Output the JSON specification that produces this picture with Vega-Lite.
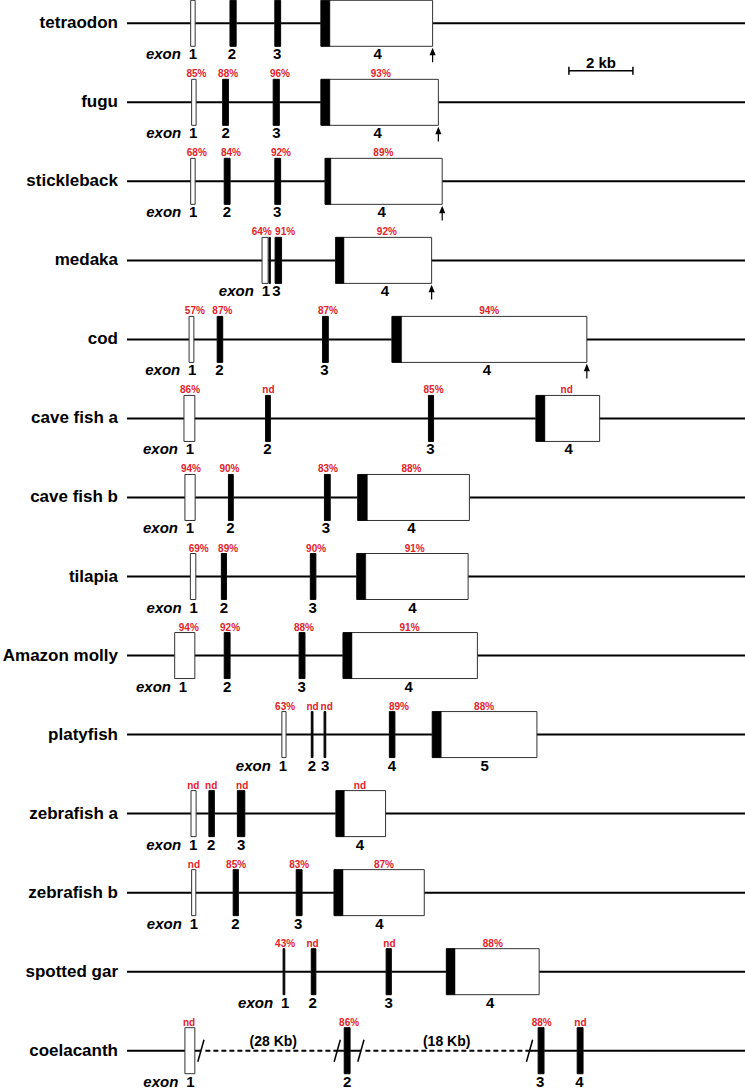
{
  "$schema": "https://vega.github.io/schema/vega-lite/v6.json",
  "width": 745,
  "height": 1090,
  "padding": 0,
  "autosize": {"type": "none"},
  "config": {"view": {"stroke": null}, "font": "Liberation Sans"},
  "datasets": {
    "lines": [
      {"sp": "tetraodon", "row": 0, "s": 0, "e": 19.3125, "d": "s"},
      {"sp": "fugu", "row": 1, "s": 0, "e": 19.3125, "d": "s"},
      {"sp": "stickleback", "row": 2, "s": 0, "e": 19.3125, "d": "s"},
      {"sp": "medaka", "row": 3, "s": 0, "e": 19.3125, "d": "s"},
      {"sp": "cod", "row": 4, "s": 0, "e": 19.3125, "d": "s"},
      {"sp": "cave fish a", "row": 5, "s": 0, "e": 19.3125, "d": "s"},
      {"sp": "cave fish b", "row": 6, "s": 0, "e": 19.3125, "d": "s"},
      {"sp": "tilapia", "row": 7, "s": 0, "e": 19.3125, "d": "s"},
      {"sp": "Amazon molly", "row": 8, "s": 0, "e": 19.3125, "d": "s"},
      {"sp": "platyfish", "row": 9, "s": 0, "e": 19.3125, "d": "s"},
      {"sp": "zebrafish a", "row": 10, "s": 0, "e": 19.3125, "d": "s"},
      {"sp": "zebrafish b", "row": 11, "s": 0, "e": 19.3125, "d": "s"},
      {"sp": "spotted gar", "row": 12, "s": 0, "e": 19.3125, "d": "s"},
      {"sp": "coelacanth", "row": 13, "s": 0, "e": 2.31, "d": "s"},
      {"sp": "coelacanth", "row": 13, "s": 2.45, "e": 6.57, "d": "d"},
      {"sp": "coelacanth", "row": 13, "s": 6.57, "e": 7.31, "d": "s"},
      {"sp": "coelacanth", "row": 13, "s": 7.45, "e": 12.58, "d": "d"},
      {"sp": "coelacanth", "row": 13, "s": 12.58, "e": 19.3125, "d": "s"}
    ],
    "exons": [
      {"sp": "tetraodon", "row": 0, "n": "1", "s": 1.99, "e": 2.13, "nx": 2.06},
      {"sp": "tetraodon", "row": 0, "n": "2", "s": 3.22, "e": 3.41, "c": 3.41, "nx": 3.28},
      {"sp": "tetraodon", "row": 0, "n": "3", "s": 4.62, "e": 4.80, "c": 4.80, "nx": 4.69},
      {"sp": "tetraodon", "row": 0, "n": "4", "s": 6.06, "e": 9.55, "c": 6.34, "nx": 7.83, "arrow": true},
      {"sp": "fugu", "row": 1, "n": "1", "s": 2.02, "e": 2.16, "nx": 2.07, "p": "85%", "px": 2.17},
      {"sp": "fugu", "row": 1, "n": "2", "s": 2.99, "e": 3.17, "c": 3.17, "nx": 3.08, "p": "88%", "px": 3.16},
      {"sp": "fugu", "row": 1, "n": "3", "s": 4.57, "e": 4.76, "c": 4.76, "nx": 4.67, "p": "96%", "px": 4.78},
      {"sp": "fugu", "row": 1, "n": "4", "s": 6.06, "e": 9.73, "c": 6.34, "nx": 7.83, "p": "93%", "px": 7.93, "arrow": true},
      {"sp": "stickleback", "row": 2, "n": "1", "s": 1.99, "e": 2.13, "nx": 2.07, "p": "68%", "px": 2.18},
      {"sp": "stickleback", "row": 2, "n": "2", "s": 3.04, "e": 3.22, "c": 3.22, "nx": 3.12, "p": "84%", "px": 3.25},
      {"sp": "stickleback", "row": 2, "n": "3", "s": 4.62, "e": 4.80, "c": 4.80, "nx": 4.69, "p": "92%", "px": 4.81},
      {"sp": "stickleback", "row": 2, "n": "4", "s": 6.19, "e": 9.85, "c": 6.37, "nx": 7.96, "p": "89%", "px": 8.01, "arrow": true},
      {"sp": "medaka", "row": 3, "n": "1", "s": 4.22, "e": 4.41, "nx": 4.34, "p": "64%", "px": 4.21},
      {"sp": "medaka", "row": 3, "s": 4.44, "e": 4.48, "c": 4.48},
      {"sp": "medaka", "row": 3, "n": "3", "s": 4.63, "e": 4.83, "c": 4.83, "nx": 4.67, "p": "91%", "px": 4.94},
      {"sp": "medaka", "row": 3, "n": "4", "s": 6.52, "e": 9.52, "c": 6.78, "nx": 8.06, "p": "92%", "px": 8.12, "arrow": true},
      {"sp": "cod", "row": 4, "n": "1", "s": 1.94, "e": 2.09, "nx": 2.04, "p": "57%", "px": 2.12},
      {"sp": "cod", "row": 4, "n": "2", "s": 2.82, "e": 2.99, "c": 2.99, "nx": 2.89, "p": "87%", "px": 2.98},
      {"sp": "cod", "row": 4, "n": "3", "s": 6.11, "e": 6.29, "c": 6.29, "nx": 6.17, "p": "87%", "px": 6.28},
      {"sp": "cod", "row": 4, "n": "4", "s": 8.28, "e": 14.37, "c": 8.58, "nx": 11.25, "p": "94%", "px": 11.32, "arrow": true},
      {"sp": "cave fish a", "row": 5, "n": "1", "s": 1.78, "e": 2.12, "nx": 1.97, "p": "86%", "px": 1.97},
      {"sp": "cave fish a", "row": 5, "n": "2", "s": 4.33, "e": 4.48, "c": 4.48, "nx": 4.39, "p": "nd", "px": 4.42},
      {"sp": "cave fish a", "row": 5, "n": "3", "s": 9.42, "e": 9.58, "c": 9.58, "nx": 9.48, "p": "85%", "px": 9.58},
      {"sp": "cave fish a", "row": 5, "n": "4", "s": 12.78, "e": 14.77, "c": 13.06, "nx": 13.80, "p": "nd", "px": 13.74},
      {"sp": "cave fish b", "row": 6, "n": "1", "s": 1.81, "e": 2.13, "nx": 1.97, "p": "94%", "px": 2.0},
      {"sp": "cave fish b", "row": 6, "n": "2", "s": 3.17, "e": 3.32, "c": 3.32, "nx": 3.23, "p": "90%", "px": 3.20},
      {"sp": "cave fish b", "row": 6, "n": "3", "s": 6.17, "e": 6.35, "c": 6.35, "nx": 6.22, "p": "83%", "px": 6.28},
      {"sp": "cave fish b", "row": 6, "n": "4", "s": 7.21, "e": 10.70, "c": 7.51, "nx": 8.89, "p": "88%", "px": 8.89},
      {"sp": "tilapia", "row": 7, "n": "1", "s": 1.98, "e": 2.15, "nx": 2.08, "p": "69%", "px": 2.24},
      {"sp": "tilapia", "row": 7, "n": "2", "s": 2.95, "e": 3.11, "c": 3.11, "nx": 3.03, "p": "89%", "px": 3.16},
      {"sp": "tilapia", "row": 7, "n": "3", "s": 5.73, "e": 5.90, "c": 5.90, "nx": 5.80, "p": "90%", "px": 5.91},
      {"sp": "tilapia", "row": 7, "n": "4", "s": 7.18, "e": 10.66, "c": 7.46, "nx": 8.92, "p": "91%", "px": 8.99},
      {"sp": "Amazon molly", "row": 8, "n": "1", "s": 1.49, "e": 2.12, "nx": 1.75, "p": "94%", "px": 1.93},
      {"sp": "Amazon molly", "row": 8, "n": "2", "s": 3.04, "e": 3.22, "c": 3.22, "nx": 3.13, "p": "92%", "px": 3.22},
      {"sp": "Amazon molly", "row": 8, "n": "3", "s": 5.38, "e": 5.56, "c": 5.56, "nx": 5.46, "p": "88%", "px": 5.53},
      {"sp": "Amazon molly", "row": 8, "n": "4", "s": 6.75, "e": 10.95, "c": 7.03, "nx": 8.80, "p": "91%", "px": 8.83},
      {"sp": "platyfish", "row": 9, "n": "1", "s": 4.84, "e": 4.97, "nx": 4.87, "p": "63%", "px": 4.94},
      {"sp": "platyfish", "row": 9, "n": "2", "s": 5.76, "e": 5.81, "c": 5.81, "nx": 5.78, "p": "nd", "px": 5.80},
      {"sp": "platyfish", "row": 9, "n": "3", "s": 6.16, "e": 6.21, "c": 6.21, "nx": 6.19, "p": "nd", "px": 6.24},
      {"sp": "platyfish", "row": 9, "n": "4", "s": 8.20, "e": 8.37, "c": 8.37, "nx": 8.28, "p": "89%", "px": 8.50},
      {"sp": "platyfish", "row": 9, "n": "5", "s": 9.54, "e": 12.81, "c": 9.82, "nx": 11.18, "p": "88%", "px": 11.16},
      {"sp": "zebrafish a", "row": 10, "n": "1", "s": 2.00, "e": 2.16, "nx": 2.07, "p": "nd", "px": 2.07},
      {"sp": "zebrafish a", "row": 10, "n": "2", "s": 2.56, "e": 2.73, "c": 2.73, "nx": 2.63, "p": "nd", "px": 2.63},
      {"sp": "zebrafish a", "row": 10, "n": "3", "s": 3.45, "e": 3.68, "c": 3.68, "nx": 3.57, "p": "nd", "px": 3.60},
      {"sp": "zebrafish a", "row": 10, "n": "4", "s": 6.53, "e": 8.08, "c": 6.79, "nx": 7.28, "p": "nd", "px": 7.28},
      {"sp": "zebrafish b", "row": 11, "n": "1", "s": 2.02, "e": 2.15, "nx": 2.09, "p": "nd", "px": 2.09},
      {"sp": "zebrafish b", "row": 11, "n": "2", "s": 3.32, "e": 3.48, "c": 3.48, "nx": 3.39, "p": "85%", "px": 3.41},
      {"sp": "zebrafish b", "row": 11, "n": "3", "s": 5.29, "e": 5.47, "c": 5.47, "nx": 5.35, "p": "83%", "px": 5.38},
      {"sp": "zebrafish b", "row": 11, "n": "4", "s": 6.47, "e": 9.29, "c": 6.75, "nx": 7.89, "p": "87%", "px": 8.03},
      {"sp": "spotted gar", "row": 12, "n": "1", "s": 4.88, "e": 4.93, "c": 4.93, "nx": 4.94, "p": "43%", "px": 4.94},
      {"sp": "spotted gar", "row": 12, "n": "2", "s": 5.76, "e": 5.90, "c": 5.90, "nx": 5.80, "p": "nd", "px": 5.80},
      {"sp": "spotted gar", "row": 12, "n": "3", "s": 8.10, "e": 8.26, "c": 8.26, "nx": 8.18, "p": "nd", "px": 8.20},
      {"sp": "spotted gar", "row": 12, "n": "4", "s": 9.98, "e": 12.88, "c": 10.25, "nx": 11.35, "p": "88%", "px": 11.43},
      {"sp": "coelacanth", "row": 13, "n": "1", "s": 1.81, "e": 2.12, "nx": 1.98, "p": "nd", "px": 1.94},
      {"sp": "coelacanth", "row": 13, "n": "2", "s": 6.79, "e": 6.97, "c": 6.97, "nx": 6.88, "p": "86%", "px": 6.94},
      {"sp": "coelacanth", "row": 13, "n": "3", "s": 12.85, "e": 13.03, "c": 13.03, "nx": 12.91, "p": "88%", "px": 12.96},
      {"sp": "coelacanth", "row": 13, "n": "4", "s": 14.07, "e": 14.25, "c": 14.25, "nx": 14.14, "p": "nd", "px": 14.17}
    ],
    "breaks": [
      {"row": 13, "x": 2.31},
      {"row": 13, "x": 6.57},
      {"row": 13, "x": 7.31},
      {"row": 13, "x": 12.58}
    ],
    "gaps": [
      {"row": 13, "x": 4.57, "t": "(28 Kb)"},
      {"row": 13, "x": 9.99, "t": "(18 Kb)"}
    ],
    "scalebar": [
      {"row": 0.6, "s": 13.81, "e": 15.81, "m": 14.81, "t": "2 kb"}
    ]
  },
  "layer": [
    {
      "data": {"name": "lines"},
      "mark": {"type": "rule", "color": "black", "strokeWidth": 2},
      "encoding": {
        "x": {"field": "s", "type": "quantitative", "scale": {"domain": [-3.96875, 19.3125], "nice": false, "zero": false, "padding": 0}, "axis": null},
        "x2": {"field": "e"},
        "y": {"field": "row", "type": "quantitative", "scale": {"domain": [-0.2948, 13.4974], "nice": false, "zero": false, "padding": 0, "reverse": true}, "axis": null},
        "strokeDash": {"field": "d", "type": "nominal", "scale": {"domain": ["s", "d"], "range": [[1, 0], [5, 3]]}, "legend": null}
      }
    },
    {
      "data": {"name": "exons"},
      "mark": {"type": "bar", "orient": "horizontal", "height": 46, "fill": "white", "stroke": "#333", "strokeWidth": 1},
      "encoding": {
        "x": {"field": "s", "type": "quantitative"},
        "x2": {"field": "e"},
        "y": {"field": "row", "type": "quantitative"}
      }
    },
    {
      "data": {"name": "exons"},
      "transform": [{"filter": "isValid(datum.c)"}],
      "mark": {"type": "bar", "orient": "horizontal", "height": 46, "fill": "black", "stroke": "black", "strokeWidth": 0.5},
      "encoding": {
        "x": {"field": "s", "type": "quantitative"},
        "x2": {"field": "c"},
        "y": {"field": "row", "type": "quantitative"}
      }
    },
    {
      "data": {"name": "breaks"},
      "mark": {"type": "point", "shape": "M-0.28,1L0.28,-1", "size": 484, "filled": false, "stroke": "black", "strokeWidth": 1.5, "opacity": 1},
      "encoding": {
        "x": {"field": "x", "type": "quantitative"},
        "y": {"field": "row", "type": "quantitative"}
      }
    },
    {
      "data": {"name": "exons"},
      "transform": [{"filter": "datum.arrow === true"}],
      "mark": {"type": "point", "shape": "M0,3.55L0,2.5M-0.2,2.85L0,2.36L0.2,2.85Z", "size": 484, "filled": true, "fill": "black", "stroke": "black", "strokeWidth": 1.2, "opacity": 1},
      "encoding": {
        "x": {"field": "e", "type": "quantitative"},
        "y": {"field": "row", "type": "quantitative"}
      }
    },
    {
      "data": {"name": "gaps"},
      "mark": {"type": "text", "font": "Liberation Sans", "fontWeight": "bold", "fontSize": 14, "dy": -9, "baseline": "middle", "align": "center", "fill": "black"},
      "encoding": {
        "x": {"field": "x", "type": "quantitative"},
        "y": {"field": "row", "type": "quantitative"},
        "text": {"field": "t"}
      }
    },
    {
      "data": {"name": "exons"},
      "transform": [{"filter": "isValid(datum.p)"}],
      "mark": {"type": "text", "font": "Liberation Sans", "fontWeight": "bold", "fontSize": 10, "dy": -28, "baseline": "middle", "align": "center", "fill": "#e2222a"},
      "encoding": {
        "x": {"field": "px", "type": "quantitative"},
        "y": {"field": "row", "type": "quantitative"},
        "text": {"field": "p"}
      }
    },
    {
      "data": {"name": "exons"},
      "transform": [{"filter": "isValid(datum.n)"}],
      "mark": {"type": "text", "font": "Liberation Sans", "fontWeight": "bold", "fontSize": 15, "dy": 31, "baseline": "middle", "align": "center", "fill": "black"},
      "encoding": {
        "x": {"field": "nx", "type": "quantitative"},
        "y": {"field": "row", "type": "quantitative"},
        "text": {"field": "n"}
      }
    },
    {
      "data": {"name": "exons"},
      "transform": [{"filter": "datum.n == '1'"}],
      "mark": {"type": "text", "font": "Liberation Sans", "fontWeight": "bold", "fontStyle": "italic", "fontSize": 15, "dy": 31, "dx": -12, "baseline": "middle", "align": "right", "fill": "black", "text": "exon"},
      "encoding": {
        "x": {"field": "nx", "type": "quantitative"},
        "y": {"field": "row", "type": "quantitative"}
      }
    },
    {
      "data": {"name": "lines"},
      "transform": [{"filter": "datum.s == 0"}],
      "mark": {"type": "text", "font": "Liberation Sans", "fontWeight": "bold", "fontSize": 17, "dx": -9, "baseline": "middle", "align": "right", "fill": "black"},
      "encoding": {
        "x": {"field": "s", "type": "quantitative"},
        "y": {"field": "row", "type": "quantitative"},
        "text": {"field": "sp"}
      }
    },
    {
      "data": {"name": "scalebar"},
      "mark": {"type": "rule", "color": "black", "strokeWidth": 1.5},
      "encoding": {
        "x": {"field": "s", "type": "quantitative"},
        "x2": {"field": "e"},
        "y": {"field": "row", "type": "quantitative"}
      }
    },
    {
      "data": {"name": "scalebar"},
      "mark": {"type": "point", "shape": "M0,-1L0,1", "size": 64, "filled": false, "stroke": "black", "strokeWidth": 1.5, "opacity": 1},
      "encoding": {
        "x": {"field": "s", "type": "quantitative"},
        "y": {"field": "row", "type": "quantitative"}
      }
    },
    {
      "data": {"name": "scalebar"},
      "mark": {"type": "point", "shape": "M0,-1L0,1", "size": 64, "filled": false, "stroke": "black", "strokeWidth": 1.5, "opacity": 1},
      "encoding": {
        "x": {"field": "e", "type": "quantitative"},
        "y": {"field": "row", "type": "quantitative"}
      }
    },
    {
      "data": {"name": "scalebar"},
      "mark": {"type": "text", "font": "Liberation Sans", "fontWeight": "bold", "fontSize": 15, "dy": -8, "baseline": "middle", "align": "center", "fill": "black"},
      "encoding": {
        "x": {"field": "m", "type": "quantitative"},
        "y": {"field": "row", "type": "quantitative"},
        "text": {"field": "t"}
      }
    }
  ]
}
